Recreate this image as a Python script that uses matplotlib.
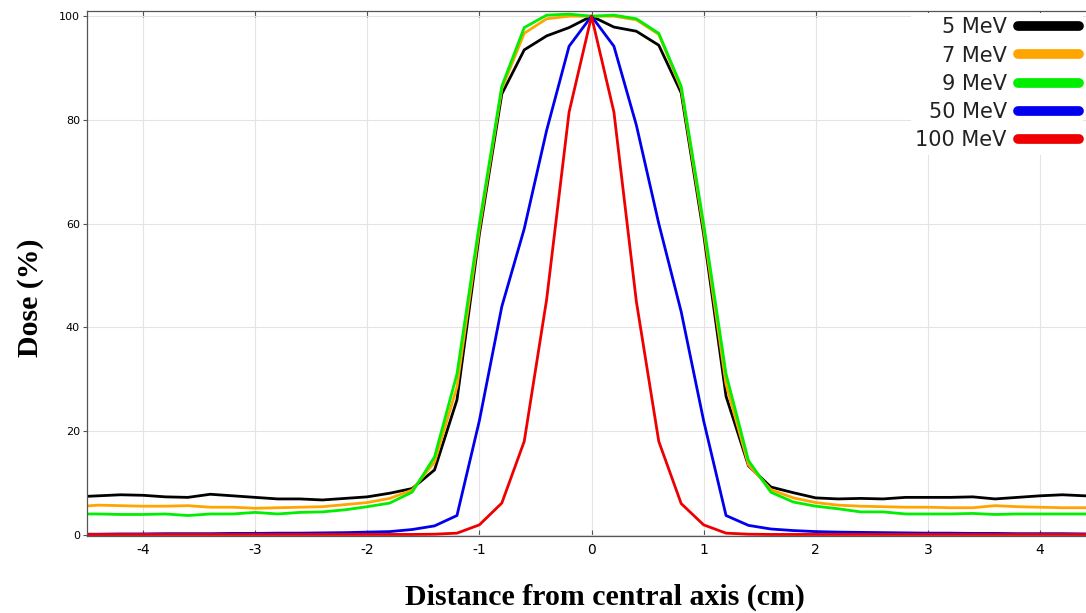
import numpy as np
import matplotlib.pyplot as plt

plt.rcParams['axes.unicode_minus'] = False

# distance from central axis (cm), 0.2 cm steps
x = np.round(np.arange(-4.6, 4.61, 0.2), 1)

dose_5 = [7.3, 7.5, 7.7, 7.6, 7.3, 7.2, 7.8, 7.5, 7.2, 6.9, 6.9, 6.7, 7.0, 7.3, 8.0, 8.9,
          12.5, 26, 58, 85, 93.5, 96.2, 97.8, 100,
          97.9, 97.1, 94.4, 85.2, 58, 26.7, 13.3, 9.2, 8.1, 7.1, 6.9, 7.0, 6.9, 7.2, 7.2,
          7.2, 7.3, 6.9, 7.2, 7.5, 7.7, 7.5, 7.3]
dose_7 = [5.4, 5.7, 5.6, 5.5, 5.5, 5.6, 5.3, 5.3, 5.1, 5.2, 5.3, 5.4, 5.8, 6.2, 7.0, 8.6,
          14, 28.5, 59, 86, 96.7, 99.5, 100.0, 100,
          100.0, 99.3, 96.5, 86, 59, 29, 13.5, 8.7, 7.1, 6.2, 5.7, 5.5, 5.4, 5.3, 5.3,
          5.2, 5.2, 5.6, 5.4, 5.3, 5.2, 5.2, 5.2]
dose_9 = [4.0, 4.0, 3.9, 3.9, 4.0, 3.7, 4.0, 4.0, 4.3, 4.0, 4.3, 4.4, 4.8, 5.4, 6.1, 8.2,
          15, 31, 60, 86.5, 97.8, 100.2, 100.4, 100,
          100.2, 99.5, 96.7, 86.5, 60, 31, 14.3, 8.2, 6.3, 5.5, 5.0, 4.4, 4.4, 4.0, 4.0,
          4.0, 4.1, 3.9, 4.0, 4.0, 4.0, 4.0, 4.0]
dose_50 = [0.1, 0.1, 0.15, 0.15, 0.2, 0.2, 0.2, 0.25, 0.25, 0.3, 0.3, 0.35, 0.4, 0.5, 0.6, 1.0,
           1.7, 3.7, 22, 44, 59, 78, 94.2, 100,
           94.2, 79, 60, 43, 22, 3.7, 1.8, 1.1, 0.8, 0.6, 0.5, 0.45, 0.4, 0.35, 0.3,
           0.3, 0.25, 0.25, 0.2, 0.2, 0.2, 0.15, 0.15]
dose_100 = [0.05, 0.05, 0.05, 0.05, 0.05, 0.05, 0.05, 0.05, 0.05, 0.05, 0.05, 0.05, 0.05, 0.05, 0.05, 0.05,
            0.1, 0.3, 1.9, 6.1, 18, 45.4, 81.5, 100,
            81.5, 45, 18, 6, 1.9, 0.3, 0.1, 0.05, 0.05, 0.05, 0.05, 0.05, 0.05, 0.05, 0.05,
            0.05, 0.05, 0.05, 0.05, 0.05, 0.05, 0.05, 0.05]

labels = ['5 MeV', '7 MeV', '9 MeV', '50 MeV', '100 MeV']
colors = ['#000000', '#ffa500', '#00ee00', '#0000ee', '#ee0000']

fig = plt.figure(figsize=(10.86, 6.13), dpi=100)
ax = fig.add_axes([87 / 1086, 77 / 613, 1009 / 1086, 525 / 613])

for y, lab, c in zip([dose_5, dose_7, dose_9, dose_50, dose_100], labels, colors):
    ax.plot(x, y, color=c, lw=2.0, label=lab)

ax.set_xlim(-4.5, 4.5)
ax.set_ylim(-0.25, 101)
ax.set_xticks(range(-4, 5))
ax.set_yticks([0, 20, 40, 60, 80, 100])
ax.grid(True, color='#e4e4e4', lw=0.8)
ax.set_axisbelow(True)
ax.tick_params(axis='x', direction='in', top=True, length=4, labelsize=10, pad=5, color='#555555')
ax.tick_params(axis='y', direction='out', length=3, labelsize=8, pad=2, color='#555555')
for s in ax.spines.values():
    s.set_color('#555555')
    s.set_linewidth(0.9)

fig.text(30 / 1086, 1 - 298 / 613, 'Dose (%)', rotation=90, ha='center', va='center',
         family='Liberation Serif', fontweight='bold', fontsize=21.5)
fig.text(605 / 1086, 1 - 597 / 613, 'Distance from central axis (cm)', ha='center', va='center',
         family='Liberation Serif', fontweight='bold', fontsize=21.5)

leg = ax.legend(loc='upper right', bbox_to_anchor=(0.997, 1 - 13 / 613), bbox_transform=fig.transFigure,
                markerfirst=False, fontsize=15, labelspacing=0.4, handlelength=2.9, handletextpad=0.55,
                borderpad=0.2, borderaxespad=0, frameon=True, fancybox=False)
leg.get_frame().set_facecolor('white')
leg.get_frame().set_edgecolor('none')
leg.get_frame().set_alpha(1)
for h in leg.get_lines():
    h.set_linewidth(7)
    h.set_solid_capstyle('round')
for t in leg.get_texts():
    t.set_color('#222222')

plt.savefig('out.png', dpi=100)
